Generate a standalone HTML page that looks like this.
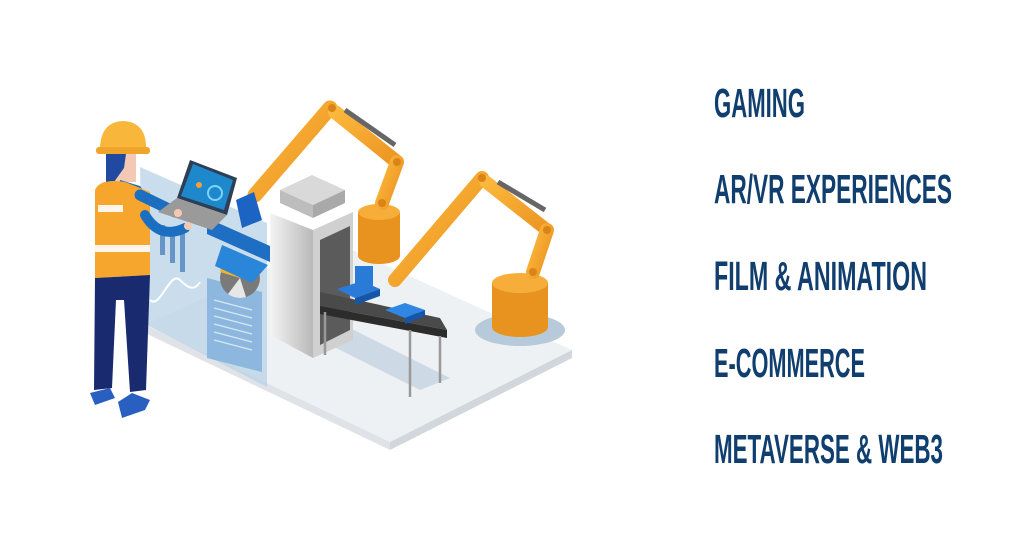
<!DOCTYPE html>
<html><head><meta charset="utf-8"><style>
html,body{margin:0;padding:0;background:#fff;width:1024px;height:550px;overflow:hidden}
svg{display:block}
</style></head><body>
<svg width="1024" height="550" viewBox="0 0 1024 550" xmlns="http://www.w3.org/2000/svg">
<defs>
<linearGradient id="og" x1="0" y1="0" x2="1" y2="1"><stop offset="0" stop-color="#fbb83c"/><stop offset="1" stop-color="#ec9422"/></linearGradient>
<linearGradient id="gm" x1="0" y1="0" x2="1" y2="0"><stop offset="0" stop-color="#f4f4f4"/><stop offset="1" stop-color="#b9b9b9"/></linearGradient>
</defs>
<!-- platform -->
<polygon points="145,325 390,442 572,350 330,240" fill="#eef1f4"/>
<polygon points="145,325 390,442 390,450 145,333" fill="#dfe3e8"/>
<polygon points="390,442 572,350 572,358 390,450" fill="#d2d7dd"/>
<!-- floor shadows -->
<ellipse cx="520" cy="330" rx="45" ry="16" fill="#b7cad9"/>
<polygon points="300,330 420,390 450,378 330,318" fill="#c4d4e1" opacity=".8"/>
<!-- glass panel -->
<polygon points="140,167 267,223 267,387 143,323" fill="#b8d2e6" opacity=".75"/>
<polygon points="207,278 262,292 262,372 207,358" fill="#7eaedb" opacity=".8"/>
<g stroke="#d8e8f5" stroke-width="1.2">
<line x1="214" y1="300" x2="252" y2="310"/><line x1="214" y1="308" x2="252" y2="318"/><line x1="214" y1="316" x2="252" y2="326"/><line x1="214" y1="324" x2="252" y2="334"/><line x1="214" y1="332" x2="252" y2="342"/><line x1="214" y1="340" x2="252" y2="350"/>
</g>
<g fill="#3d79b8" opacity=".7"><rect x="160" y="225" width="5" height="30"/><rect x="170" y="228" width="5" height="35"/><rect x="180" y="232" width="5" height="40"/></g>
<path d="M150,300 C160,310 170,270 180,280 S195,290 200,282" stroke="#fff" stroke-width="2" fill="none"/>
<!-- pie -->
<circle cx="240" cy="278" r="20" fill="#7a7a7a"/>
<path d="M240,278 L220,272 A20,20 0 0 1 258,268 Z" fill="#f3b32a"/>
<path d="M240,278 L246,297 A20,20 0 0 1 228,294 Z" fill="#e6e6e6"/>
<!-- robot arm 1 base -->
<rect x="358" y="212" width="42" height="44" fill="#e8921f"/>
<ellipse cx="379" cy="256" rx="21" ry="8" fill="#e8921f"/>
<ellipse cx="379" cy="212" rx="21" ry="8" fill="#f7ad3a"/>
<g stroke="url(#og)" stroke-linecap="round" fill="none">
<line x1="255" y1="195" x2="330" y2="108" stroke-width="15"/>
<line x1="335" y1="112" x2="397" y2="162" stroke-width="14"/>
<line x1="397" y1="162" x2="382" y2="203" stroke-width="14"/>
</g>
<line x1="345" y1="110" x2="395" y2="145" stroke="#666" stroke-width="5"/>
<circle cx="332" cy="108" r="4" fill="#d98418"/><circle cx="397" cy="162" r="4" fill="#d98418"/><circle cx="382" cy="203" r="4" fill="#d98418"/>
<!-- machine -->
<polygon points="280,190 312,175 345,190 313,205" fill="#d9d9d9"/>
<polygon points="280,190 313,205 313,218 280,203" fill="#bdbdbd"/>
<polygon points="313,205 345,190 345,203 313,218" fill="#a9a9a9"/>
<polygon points="270,213 313,230 313,358 270,335" fill="url(#gm)"/>
<polygon points="313,230 353,212 353,340 313,358" fill="#d0d0d0"/>
<polygon points="320,240 350,226 350,330 320,345" fill="#5b5b5b"/>
<!-- conveyor -->
<polygon points="207,218 270,246 270,262 207,234" fill="#1e6fc4"/>
<polygon points="222,245 268,265 252,283 215,266" fill="#2a86d8"/>
<polygon points="320,292 440,318 447,330 320,306" fill="#4a4a4a"/>
<polygon points="320,306 447,330 447,338 320,314" fill="#2c2c2c"/>
<g stroke="#999" stroke-width="2.5">
<line x1="325" y1="312" x2="325" y2="355"/><line x1="410" y1="330" x2="410" y2="397"/><line x1="440" y1="336" x2="440" y2="383"/>
</g>
<!-- blue boxes -->
<polygon points="337,289 362,281 380,289 355,298" fill="#2a7ad8"/>
<polygon points="355,298 380,289 380,296 355,305" fill="#1556a8"/>
<rect x="355" y="266" width="18" height="26" fill="#2a7ad8"/>
<polygon points="385,310 405,303 425,310 405,318" fill="#2f86e3"/>
<polygon points="405,318 425,310 425,316 405,324" fill="#1556a8"/>
<polygon points="236,200 254,192 262,220 242,228" fill="#1b64c4"/>
<!-- robot arm 2 -->
<rect x="492" y="283" width="56" height="44" fill="#e8921f"/>
<ellipse cx="520" cy="327" rx="28" ry="10" fill="#e8921f"/>
<ellipse cx="520" cy="283" rx="28" ry="10" fill="#f7ad3a"/>
<g stroke="url(#og)" stroke-linecap="round" fill="none">
<line x1="395" y1="280" x2="482" y2="178" stroke-width="14"/>
<line x1="486" y1="182" x2="547" y2="230" stroke-width="13"/>
<line x1="547" y1="230" x2="533" y2="272" stroke-width="14"/>
</g>
<line x1="498" y1="182" x2="545" y2="210" stroke="#666" stroke-width="5"/>
<circle cx="482" cy="178" r="4" fill="#d98418"/><circle cx="547" cy="230" r="4" fill="#d98418"/><circle cx="533" cy="272" r="4" fill="#d98418"/>
<!-- worker -->
<path d="M100,150 Q100,122 123,121 Q147,122 146,150 Z" fill="#f8b63b"/>
<rect x="96" y="147" width="54" height="7" rx="3" fill="#f0a42c"/>
<rect x="108" y="154" width="28" height="28" fill="#f3c9b5"/>
<path d="M106,154 L126,154 L124,168 L114,182 L106,182 Z" fill="#1f4aa0"/>
<path d="M120,180 L140,186 L150,200 L145,210 L120,200 Z" fill="#1c6fc0"/>
<path d="M95,190 Q100,178 125,182 L150,192 L150,275 L95,278 Z" fill="#f6a62c"/>
<rect x="95" y="245" width="55" height="7" fill="#fff" opacity=".9"/>
<rect x="98" y="205" width="25" height="7" fill="#fff" opacity=".9"/>
<path d="M140,195 L175,212" stroke="#1c6fc0" stroke-width="11" stroke-linecap="round"/>
<path d="M145,215 Q160,240 185,228" stroke="#1c6fc0" stroke-width="10" stroke-linecap="round" fill="none"/>
<path d="M95,278 L150,275 L146,390 L130,392 L124,300 L116,300 L112,388 L94,390 Z" fill="#1a2a6e"/>
<path d="M90,393 L110,388 L115,398 L95,405 Z" fill="#2a5fc2"/>
<path d="M118,402 L132,393 L150,400 L145,410 L122,418 Z" fill="#2a5fc2"/>
<!-- laptop -->
<polygon points="190,160 237,178 227,215 177,198" fill="#2d3e55"/>
<polygon points="193,164 233,180 224,210 181,196" fill="#1e88cc"/>
<circle cx="215" cy="193" r="7" fill="none" stroke="#7fd4ff" stroke-width="2"/>
<circle cx="199" cy="185" r="3" fill="#f59e3b"/>
<polygon points="177,198 227,215 212,230 158,212" fill="#9a9a9a"/>
<circle cx="178" cy="213" r="4" fill="#f3c9b5"/>
<circle cx="188" cy="226" r="4" fill="#f3c9b5"/>
<!-- text -->
<g font-family="'Liberation Sans Narrow','Liberation Sans',sans-serif" font-weight="bold" font-size="41" fill="#0f3e6f">
<text x="714" y="117" textLength="91" lengthAdjust="spacingAndGlyphs">GAMING</text>
<text x="714" y="203" textLength="238" lengthAdjust="spacingAndGlyphs">AR/VR EXPERIENCES</text>
<text x="714" y="290" textLength="213" lengthAdjust="spacingAndGlyphs">FILM &amp; ANIMATION</text>
<text x="714" y="377" textLength="151" lengthAdjust="spacingAndGlyphs">E-COMMERCE</text>
<text x="714" y="463" textLength="229" lengthAdjust="spacingAndGlyphs">METAVERSE &amp; WEB3</text>
</g>
</svg>
</body></html>
